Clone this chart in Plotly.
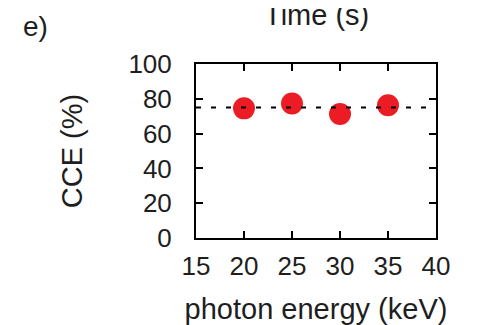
import plotly.graph_objects as go

photon_energy = [20, 25, 30, 35]
cce = [74.5, 77.3, 71.3, 76.3]
reference_level = 75
x_ticks = [15, 20, 25, 30, 35, 40]
y_ticks = [0, 20, 40, 60, 80, 100]

FONT = "Liberation Sans, Arial, sans-serif"
TXT = "#1e1e1e"

fig = go.Figure()
fig.add_trace(go.Scatter(
    x=photon_energy, y=cce, mode="markers",
    marker=dict(size=22, color="rgb(236,28,36)", line=dict(width=0)),
    showlegend=False,
))
fig.add_hline(y=reference_level, line=dict(color="black", width=2, dash="5px,10px"), layer="above")

axis_common = dict(
    showline=True, linecolor="black", linewidth=2, mirror="ticks",
    ticks="inside", ticklen=7, tickwidth=2, tickcolor="black",
    showgrid=False, zeroline=False, automargin=False,
    tickfont=dict(family=FONT, size=26, color=TXT),
)
fig.update_xaxes(range=[15, 40], tickvals=x_ticks, ticklabelstandoff=4,
                 title=dict(text="photon energy (keV)", font=dict(family=FONT, size=29, color=TXT), standoff=22),
                 **axis_common)
fig.update_yaxes(range=[0, 100], tickvals=y_ticks, ticklabelstandoff=17,
                 title=dict(text="CCE (%)", font=dict(family=FONT, size=29, color=TXT), standoff=37),
                 **axis_common)

fig.add_annotation(text="e)", xref="paper", yref="paper", x=-0.729, y=1.215, xanchor="left", yanchor="middle",
                   showarrow=False, font=dict(family=FONT, size=28, color=TXT))
fig.add_annotation(text="Time (s)", xref="paper", yref="paper", x=0.5, y=1.28, xanchor="center", yanchor="middle",
                   showarrow=False, font=dict(family=FONT, size=29, color=TXT))

fig.update_layout(
    width=470, height=317,
    margin=dict(l=188, r=42, t=56, b=87),
    paper_bgcolor="white", plot_bgcolor="white",
)
fig.write_html("out.html")
